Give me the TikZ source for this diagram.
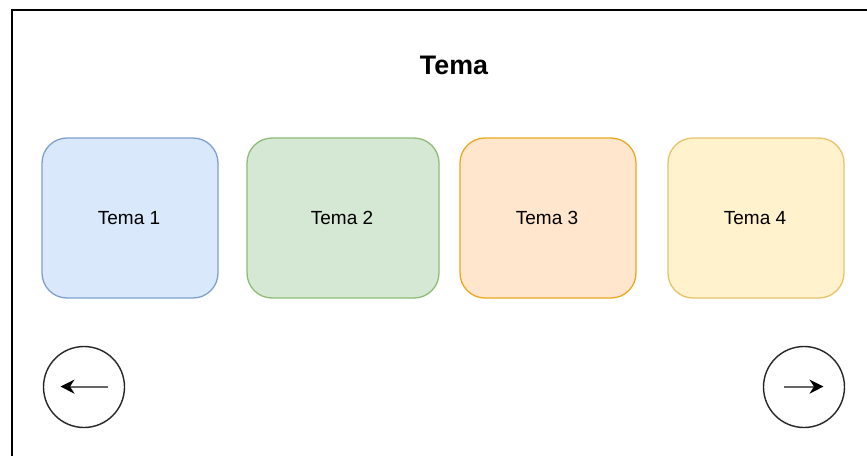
\documentclass[tikz,border=0pt]{standalone}
\usepackage{fontspec}
\setmainfont{Liberation Sans}
\usetikzlibrary{arrows.meta}
\definecolor{bluefill}{HTML}{DAE8FC}\definecolor{blueline}{HTML}{7F9FCF}
\definecolor{greenfill}{HTML}{D5E8D4}\definecolor{greenline}{HTML}{8FBC75}
\definecolor{orangefill}{HTML}{FFE6CC}\definecolor{orangeline}{HTML}{EBA920}
\definecolor{yellowfill}{HTML}{FFF2CC}\definecolor{yellowline}{HTML}{E6C36A}
\tikzset{
  card/.style={draw,rounded corners=25pt,line width=1.3pt,minimum height=160pt,inner sep=0pt,text=black},
  cardlabel/.style={font=\fontsize{19}{21}\selectfont,text=black,inner sep=0pt},
  navbtn/.style={draw=black!85,circle,line width=1.4pt,minimum size=81pt,inner sep=0pt},
  navarrow/.style={-{Stealth[length=14pt,width=14pt,color=black]},line width=2pt,draw=black!60}
}
\begin{document}
\begin{tikzpicture}[x=1pt,y=-1pt]
\useasboundingbox (0,0) rectangle (867,455);
\fill[white] (0,0) rectangle (867,455);
\draw[black,line width=1.7pt] (12.3,470) -- (12.3,10.3) -- (880,10.3);
\node[font=\fontsize{26.8}{28}\selectfont\bfseries] (title) at (454,65.5) {Tema};
\node[card,fill=bluefill,draw=blueline,minimum width=176pt,label={[cardlabel]center:{\kern-2pt Tema 1}}] (t1) at (130,218) {};
\node[card,fill=greenfill,draw=greenline,minimum width=192pt,label={[cardlabel]center:{\kern-2pt Tema 2}}] (t2) at (343,218) {};
\node[card,fill=orangefill,draw=orangeline,minimum width=176pt,label={[cardlabel]center:{\kern-2pt Tema 3}}] (t3) at (548,218) {};
\node[card,fill=yellowfill,draw=yellowline,minimum width=176pt,label={[cardlabel]center:{\kern-2pt Tema 4}}] (t4) at (756,218) {};
\node[navbtn] (prev) at (84,387) {};
\node[navbtn] (next) at (804,387) {};
\coordinate (pa) at (108,386.6);
\coordinate (pb) at (60.5,386.6);
\coordinate (na) at (784,386.6);
\coordinate (nb) at (823.5,386.6);
\draw[navarrow] (pa) -- (pb);
\draw[navarrow] (na) -- (nb);
\end{tikzpicture}
\end{document}
